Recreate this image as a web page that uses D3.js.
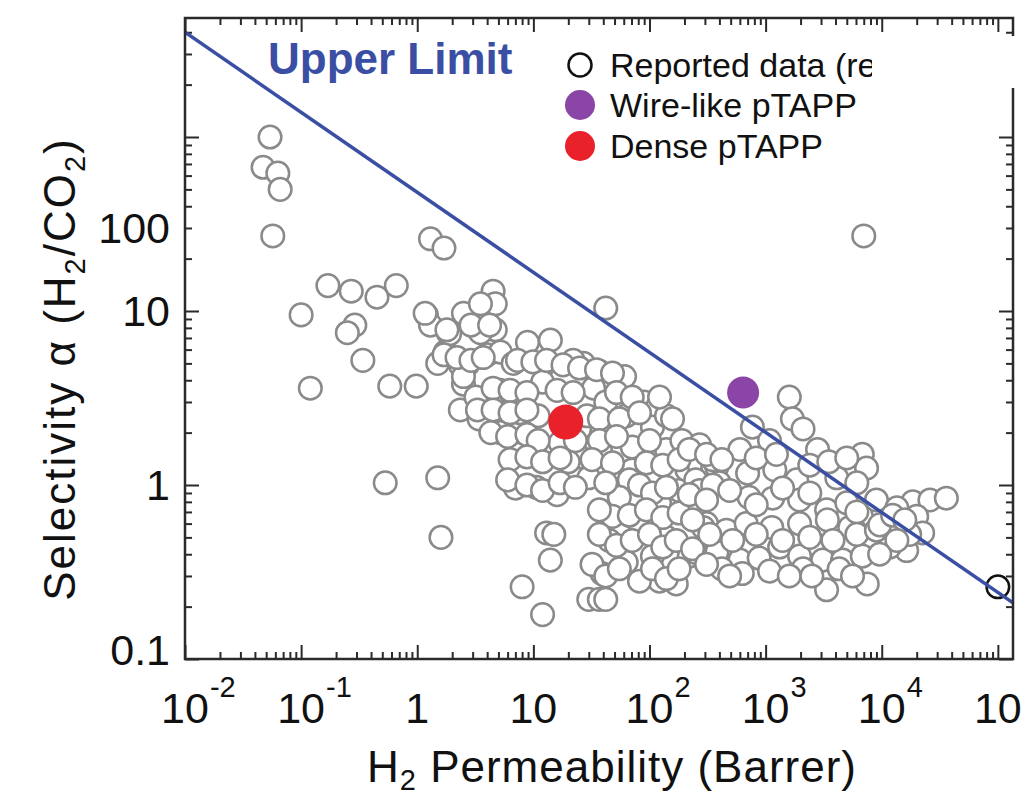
<!DOCTYPE html>
<html>
<head>
<meta charset="utf-8">
<script src="https://cdn.jsdelivr.net/npm/d3@7"></script>
<style>
  body { margin: 0; background: #fff; }
  svg { display: block; font-family: "Liberation Sans", Arial, Helvetica, sans-serif; }
</style>
</head>
<body>
<svg id="chart" width="1023" height="793"></svg>
<script>
// reported membranes: H2 permeability (Barrer) and H2/CO2 selectivity
var reportedPerm = [
  0.054, 0.047, 0.063, 0.066, 0.057, 1.3, 1.7, 0.17, 0.27, 0.45,
  0.66, 0.10, 0.29, 0.25, 0.34, 0.12, 0.58, 0.98, 1.2, 1.3,
  1.85, 2.5, 1.74, 1.5, 2.35, 2.5, 2.35, 0.53, 4.5, 4.7,
  42, 1.17, 3.5, 1.9, 4.7, 3.5, 8.9, 14, 2.7, 2.5,
  4.0, 5.2, 6.7, 12, 27, 22, 37, 61, 33, 12,
  7.0, 5.2, 4.3, 3.2, 3.4, 5.2, 7.4, 7.7, 11, 42,
  63, 90, 117, 48, 38, 25, 25, 12, 7.3, 20,
  30, 7.0, 10.6, 16, 1.5, 1.6, 13, 15, 14, 8.0,
  12, 71, 71, 106, 140, 140, 67, 55, 78, 48,
  45, 39, 63, 106, 140, 122, 180, 210, 270, 350,
  310, 350, 220, 170, 122, 30, 37, 42, 17, 1600,
  1700, 2100, 2800, 770, 1080, 600, 380, 700, 1200, 1850,
  4100, 6800, 7400, 6100, 250, 400, 720, 1150, 1960, 3350,
  5000, 8300, 10200, 18500, 26000, 36000, 20000, 22500, 16400, 290,
  460, 680, 1130, 1960, 3400, 5300, 7800, 11700, 250, 380,
  600, 880, 1320, 1960, 3100, 4600, 6800, 420, 630, 2100,
  4300, 3350, 7500, 7000, 1.8, 2.9, 4.2, 1.7, 2.2, 2.9,
  3.7, 7.3, 9.9, 13, 18, 25, 35, 48, 4.5, 6.3,
  8.8, 16, 22, 52, 71, 122, 3.3, 4.5, 6.3, 8.8,
  29, 37, 55, 82, 158, 4.3, 6.0, 8.8, 11, 23,
  37, 52, 100, 190, 270, 6.3, 8.8, 12, 17, 32,
  48, 94, 130, 180, 350, 6.0, 8.8, 12, 17, 23,
  42, 82, 106, 140, 270, 350, 37, 67, 94, 130,
  180, 235, 37, 52, 71, 100, 130, 170, 235, 32,
  42, 55, 82, 106, 140, 180, 220, 310, 420, 830,
  1240, 2400, 3500, 5000, 220, 310, 490, 830, 1400, 2400,
  6100, 9000, 13500, 330, 520, 830, 1400, 2400, 3800, 6100,
  9000, 12400, 17400, 310, 490, 1080, 1600, 2500, 5600, 9600,
  12400, 15800, 13500, 9600
];
var reportedSel = [
  100, 67, 62, 50, 27, 26, 23, 14, 13, 12,
  14, 9.5, 8.3, 7.5, 5.2, 3.6, 3.7, 3.7, 9.5, 8.3,
  7.5, 9.7, 5.8, 5.0, 4.9, 3.8, 2.7, 1.03, 13, 11,
  10.4, 9.7, 11, 7.4, 7.8, 7.5, 6.6, 6.8, 4.9, 4.2,
  5.6, 5.8, 5.0, 4.8, 5.0, 5.2, 4.5, 4.2, 3.6, 3.9,
  3.2, 3.5, 3.0, 3.2, 2.4, 2.0, 1.75, 2.6, 2.5, 3.0,
  2.5, 3.0, 2.8, 2.0, 1.55, 2.1, 1.45, 1.5, 1.5, 1.36,
  1.1, 0.96, 0.97, 0.88, 1.1, 0.50, 0.53, 0.52, 0.37, 0.26,
  0.18, 1.65, 1.22, 2.15, 2.5, 1.6, 1.07, 0.85, 0.63, 0.66,
  0.48, 0.31, 0.36, 0.39, 0.50, 0.79, 0.93, 1.22, 1.27, 1.27,
  0.60, 0.41, 0.39, 0.27, 0.28, 0.22, 0.22, 0.22, 1.75, 3.2,
  2.4, 2.1, 1.6, 2.15, 1.8, 1.6, 1.27, 1.17, 1.22, 1.07,
  1.1, 1.5, 1.25, 1.03, 1.07, 1.03, 0.85, 0.84, 0.82, 0.72,
  0.79, 0.66, 0.72, 0.80, 0.82, 0.84, 0.66, 0.53, 0.42, 0.57,
  0.55, 0.60, 0.57, 0.60, 0.63, 0.57, 0.48, 0.44, 0.41, 0.41,
  0.37, 0.38, 0.44, 0.39, 0.37, 0.37, 0.39, 0.33, 0.31, 0.33,
  0.33, 0.25, 0.27, 27, 7.8, 8.3, 8.3, 5.6, 5.4, 5.2,
  5.4, 5.2, 5.1, 5.2, 4.9, 4.7, 4.6, 4.4, 3.6, 3.5,
  3.4, 3.5, 3.4, 3.4, 3.2, 3.2, 2.7, 2.7, 2.6, 2.7,
  2.5, 2.4, 2.4, 2.6, 2.4, 2.0, 1.9, 1.95, 1.8, 1.8,
  1.8, 1.9, 1.8, 1.8, 1.7, 1.4, 1.45, 1.36, 1.43, 1.4,
  1.34, 1.34, 1.3, 1.4, 1.4, 1.07, 1.0, 0.93, 1.03, 0.97,
  1.03, 1.0, 0.90, 0.97, 0.93, 1.0, 0.72, 0.67, 0.72, 0.65,
  0.69, 0.63, 0.52, 0.45, 0.48, 0.52, 0.44, 0.48, 0.43, 0.35,
  0.30, 0.33, 0.28, 0.33, 0.29, 0.33, 1.6, 1.5, 1.4, 1.43,
  1.5, 1.3, 1.36, 1.43, 0.88, 0.82, 0.93, 0.77, 0.96, 0.90,
  0.70, 0.82, 0.74, 0.52, 0.48, 0.52, 0.48, 0.50, 0.48, 0.52,
  0.55, 0.55, 0.52, 0.35, 0.30, 0.32, 0.30, 0.30, 0.30, 0.59,
  0.67, 0.63, 0.48, 0.40
];
// the one reported point drawn in black at the right edge
var blackPerm = [100000];
var blackSel = [0.26];

// this work
var wirePerm = [640], wireSel = [3.4];
var densePerm = [19], denseSel = [2.3];

// upper limit line end points
var limitPerm = [0.01, 1.35e5];
var limitSel = [400, 0.21];

// axis tick labels; the y labels sit where the source figure printed them
var xTickValues = [1e-2, 1e-1, 1, 10, 1e2, 1e3, 1e4, 1e5];
var xTickBase = ['10', '10', '1', '10', '10', '10', '10', '10'];
var xTickExp = ['-2', '-1', '', '', '2', '3', '4', '5'];
var yTickValues = [0.1, 1, 10, 100];
var yTickLabels = ['0.1', '1', '10', '100'];
var yTickLabelAt = [0.113, 1, 10, 30];

var legendLabels = ['Reported data (ref.)', 'Wire-like pTAPP', 'Dense pTAPP'];

var grey = '#8a8a8a', purple = '#8b45a6', red = '#e8212b', blue = '#3a4fa3', ink = '#2a2a2a';

var svg = d3.select('#chart');
svg.append('rect').attr('width', 1023).attr('height', 793).attr('fill', '#fff');

var plot = {left: 185, top: 18, right: 1013, bottom: 659};
var x = d3.scaleLog().domain([0.01, 1.35e5]).range([plot.left, plot.right]);
var y = d3.scaleLog().domain([0.1, 483]).range([plot.bottom, plot.top]);

function minorTicks(scale) {
    var d = scale.domain(), out = [];
    for (var e = Math.floor(Math.log10(d[0])); e <= Math.ceil(Math.log10(d[1])); e++) {
        for (var k = 2; k <= 9; k++) {
            var v = k * Math.pow(10, e);
            if (v > d[0] && v < d[1]) out.push(v);
        }
    }
    return out;
}

// ticks on all four sides, pointing inward
function ticks(axisFn, scale, values, size, transform) {
    svg.append('g')
        .attr('transform', transform)
        .call(axisFn(scale).tickValues(values).tickSize(-size).tickSizeOuter(0).tickFormat(''))
        .call(function(g) { g.select('.domain').remove(); })
        .selectAll('line').attr('stroke', ink).attr('stroke-width', 2);
}
[[xTickValues, 14], [minorTicks(x), 7]].forEach(function(t) {
    ticks(d3.axisBottom, x, t[0], t[1], 'translate(0,' + plot.bottom + ')');
    ticks(d3.axisTop, x, t[0], t[1], 'translate(0,' + plot.top + ')');
});
[[yTickValues, 14], [minorTicks(y), 7]].forEach(function(t) {
    ticks(d3.axisLeft, y, t[0], t[1], 'translate(' + plot.left + ',0)');
    ticks(d3.axisRight, y, t[0], t[1], 'translate(' + plot.right + ',0)');
});

// reported data
var reported = reportedPerm.map(function(p, i) { return {p: p, s: reportedSel[i]}; });
svg.append('g').selectAll('circle')
        .data(reported)
    .enter().append('circle')
        .attr('cx', function(d) { return x(d.p); })
        .attr('cy', function(d) { return y(d.s); })
        .attr('r', 11.3)
        .attr('fill', '#fff')
        .attr('stroke', grey)
        .attr('stroke-width', 2.5);

svg.append('g').selectAll('circle')
        .data(blackPerm.map(function(p, i) { return {p: p, s: blackSel[i]}; }))
    .enter().append('circle')
        .attr('cx', function(d) { return x(d.p); })
        .attr('cy', function(d) { return y(d.s); })
        .attr('r', 11.3)
        .attr('fill', 'none')
        .attr('stroke', '#111')
        .attr('stroke-width', 2.5);

// upper limit
svg.append('clipPath').attr('id', 'plotClip')
    .append('rect')
        .attr('x', plot.left).attr('y', plot.top)
        .attr('width', plot.right - plot.left).attr('height', plot.bottom - plot.top);
svg.append('path')
    .datum(limitPerm.map(function(p, i) { return [p, limitSel[i]]; }))
    .attr('clip-path', 'url(#plotClip)')
    .attr('d', d3.line().x(function(d) { return x(d[0]); }).y(function(d) { return y(d[1]); }))
    .attr('fill', 'none')
    .attr('stroke', blue)
    .attr('stroke-width', 3.5);

// this work
[[wirePerm, wireSel, purple, 16], [densePerm, denseSel, red, 17.5]].forEach(function(s) {
    svg.append('g').selectAll('circle')
            .data(s[0].map(function(p, i) { return {p: p, s: s[1][i]}; }))
        .enter().append('circle')
            .attr('cx', function(d) { return x(d.p); })
            .attr('cy', function(d) { return y(d.s); })
            .attr('r', s[3])
            .attr('fill', s[2]);
});

// frame
svg.append('rect')
    .attr('x', plot.left).attr('y', plot.top)
    .attr('width', plot.right - plot.left).attr('height', plot.bottom - plot.top)
    .attr('fill', 'none').attr('stroke', ink).attr('stroke-width', 2.5);

// x tick labels: "10" centred on the tick, exponent hanging to the right
xTickValues.forEach(function(v, i) {
    var cx = x(v);
    var base = svg.append('text')
        .attr('x', cx).attr('y', 723)
        .attr('text-anchor', 'middle')
        .attr('font-size', 43).attr('fill', '#111')
        .text(xTickBase[i]);
    if (xTickExp[i]) {
        var w = base.node().getComputedTextLength();
        svg.append('text')
            .attr('x', cx + w / 2 + 1).attr('y', 697)
            .attr('font-size', 29).attr('fill', '#111')
            .text(xTickExp[i]);
    }
});

// y tick labels
svg.append('g').selectAll('text')
        .data(yTickLabels)
    .enter().append('text')
        .attr('x', 170)
        .attr('y', function(d, i) { return y(yTickLabelAt[i]) + 15; })
        .attr('text-anchor', 'end')
        .attr('font-size', 43).attr('fill', '#111')
        .text(function(d) { return d; });

// axis titles
var xt = svg.append('text')
    .attr('x', 612).attr('y', 782)
    .attr('text-anchor', 'middle')
    .attr('font-size', 44).attr('fill', '#111')
    .attr('letter-spacing', 1);
xt.append('tspan').text('H');
xt.append('tspan').attr('font-size', 29).attr('dy', 8).text('2');
xt.append('tspan').attr('dy', -8).text(' Permeability (Barrer)');

var yt = svg.append('text')
    .attr('transform', 'translate(75,369) rotate(-90)')
    .attr('text-anchor', 'middle')
    .attr('font-size', 44).attr('fill', '#111')
    .attr('letter-spacing', 2);
yt.append('tspan').text('Selectivity \u03b1 (H');
yt.append('tspan').attr('font-size', 29).attr('dy', 10).text('2');
yt.append('tspan').attr('dy', -10).text('/CO');
yt.append('tspan').attr('font-size', 29).attr('dy', 10).text('2');
yt.append('tspan').attr('dy', -10).text(')');

// upper limit label
svg.append('text')
    .attr('x', 268).attr('y', 74)
    .attr('font-size', 44).attr('font-weight', 'bold')
    .attr('fill', blue)
    .text('Upper Limit');

// legend
var legendRows = [65, 105, 146];
var legendSym = [
    {fill: '#fff', stroke: '#111', r: 11.5},
    {fill: purple, stroke: 'none', r: 15},
    {fill: red, stroke: 'none', r: 15}
];
legendLabels.forEach(function(label, i) {
    svg.append('circle')
        .attr('cx', 580).attr('cy', legendRows[i])
        .attr('r', legendSym[i].r)
        .attr('fill', legendSym[i].fill)
        .attr('stroke', legendSym[i].stroke)
        .attr('stroke-width', 2.5);
    svg.append('text')
        .attr('x', 610).attr('y', legendRows[i] + 12)
        .attr('font-size', 34).attr('fill', '#111')
        .text(label);
});

// the source figure is cut off by a white patch at the top right
svg.append('rect')
    .attr('x', 872).attr('y', 36)
    .attr('width', 151).attr('height', 52)
    .attr('fill', '#fff');
</script>
</body>
</html>
